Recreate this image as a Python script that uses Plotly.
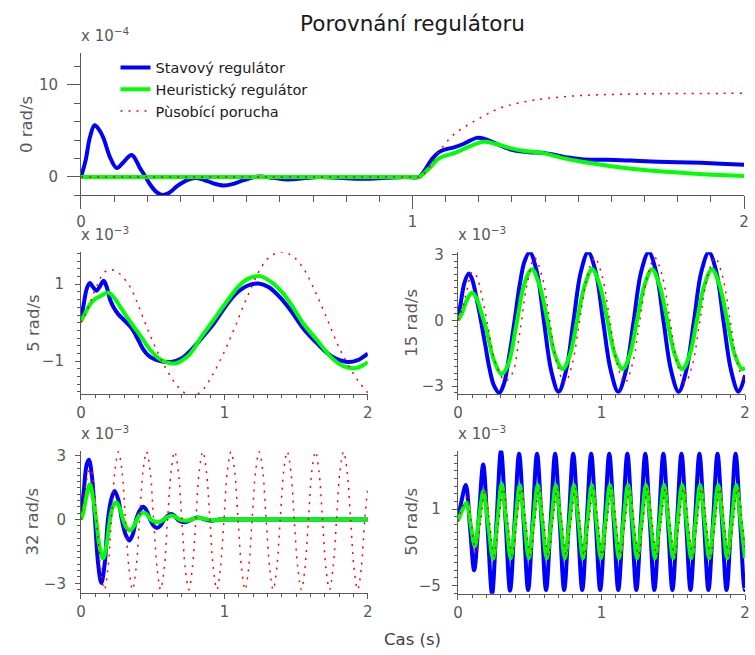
import plotly.graph_objects as go

# ---------------- data ----------------
# Panel 1: 0 rad/s  (x 10^-4)
t0_stav = [0, 0.014, 0.027, 0.041, 0.055, 0.068, 0.088, 0.108, 0.128, 0.153,
           0.178, 0.195, 0.21, 0.228, 0.245, 0.265, 0.29, 0.32, 0.345, 0.37,
           0.4, 0.43, 0.46, 0.49, 0.535, 0.58, 0.624, 0.67, 0.72, 0.78,
           0.85, 0.92, 0.98, 1.02, 1.04, 1.06, 1.08, 1.10, 1.125, 1.155,
           1.194, 1.22, 1.25, 1.30, 1.35, 1.39, 1.43, 1.47, 1.51, 1.56,
           1.61, 1.66, 1.72, 1.8, 1.87, 1.93, 2.0]
y0_stav = [0, 1.8, 4.3, 5.6, 5.1, 4.2, 2.1, 0.96, 1.6, 2.39,
           0.96, 0.0, -0.9, -1.65, -1.97, -1.75, -1.0, -0.35, -0.12, -0.3,
           -0.7, -0.93, -0.75, -0.35, 0.05, -0.1, -0.27, -0.15, 0.0, -0.1,
           -0.2, -0.1, 0.0, 0.0, 0.9, 2.0, 2.7, 3.0, 3.2, 3.6,
           4.24, 4.1, 3.64, 2.93, 2.68, 2.62, 2.39, 2.1, 1.93, 1.87,
           1.85, 1.78, 1.67, 1.6, 1.53, 1.43, 1.32]
t0_heur = [0, 0.5, 1.0, 1.02, 1.051, 1.08, 1.13, 1.17, 1.214, 1.25,
           1.289, 1.338, 1.388, 1.447, 1.507, 1.56, 1.606, 1.66, 1.715, 1.79,
           1.864, 1.93, 2.0]
y0_heur = [0, 0, 0, 0, 0.96, 2.03, 2.64, 3.28, 3.82, 3.6,
           3.18, 2.82, 2.64, 2.1, 1.67, 1.38, 1.14, 0.9, 0.71, 0.5,
           0.32, 0.2, 0.1]
t0_por = [0, 0.5, 1.0, 1.02, 1.05, 1.07, 1.095, 1.128, 1.17, 1.214,
          1.259, 1.309, 1.358, 1.408, 1.502, 1.616, 1.765, 2.0]
y0_por = [0, 0, 0, 0, 1.0, 2.2, 3.46, 4.71, 5.7, 6.6,
          7.4, 7.93, 8.28, 8.53, 8.82, 8.96, 9.04, 9.07]

# Panel 2: 5 rad/s  (x 10^-3)
t5_stav = [0, 0.02, 0.04, 0.062, 0.085, 0.108, 0.13, 0.158, 0.18, 0.204,
           0.23, 0.262, 0.3, 0.353, 0.4, 0.434, 0.47, 0.502, 0.56, 0.629,
           0.7, 0.77, 0.846, 0.93, 1.007, 1.08, 1.16, 1.237, 1.31, 1.39,
           1.466, 1.55, 1.65, 1.75, 1.856, 1.93, 2.0]
y5_stav = [0.04, 0.5, 0.88, 1.03, 0.92, 0.83, 0.93, 1.09, 0.92, 0.59,
           0.38, 0.21, 0.07, -0.14, -0.45, -0.69, -0.85, -0.93, -1.0, -1.02,
           -0.93, -0.7, -0.38, 0.0, 0.42, 0.75, 0.96, 1.02, 0.92, 0.65,
           0.3, -0.15, -0.55, -0.88, -1.02, -0.97, -0.8]
t5_heur = [0, 0.03, 0.067, 0.1, 0.135, 0.17, 0.193, 0.225, 0.273, 0.32,
           0.376, 0.43, 0.479, 0.56, 0.652, 0.75, 0.846, 0.93, 1.007, 1.1,
           1.17, 1.248, 1.33, 1.4, 1.466, 1.55, 1.65, 1.75, 1.83, 1.913,
           1.96, 2.0]
y5_heur = [0.04, 0.25, 0.5, 0.62, 0.69, 0.76, 0.78, 0.68, 0.42, 0.15,
           -0.14, -0.42, -0.69, -0.97, -1.06, -0.85, -0.33, 0.1, 0.5, 0.95,
           1.15, 1.21, 1.05, 0.8, 0.47, -0.02, -0.47, -0.92, -1.13, -1.18,
           -1.12, -1.02]
t5_por = [0, 0.03, 0.067, 0.11, 0.158, 0.204, 0.26, 0.342, 0.4, 0.456,
          0.52, 0.594, 0.68, 0.766, 0.84, 0.915, 1.0, 1.076, 1.16, 1.259,
          1.33, 1.409, 1.48, 1.559, 1.64, 1.718, 1.8, 1.879, 1.94, 2.0]
y5_por = [0, 0.22, 0.55, 0.95, 1.29, 1.38, 1.3, 0.93, 0.45, -0.09,
          -0.65, -1.2, -1.68, -1.9, -1.78, -1.37, -0.75, -0.09, 0.68, 1.45,
          1.75, 1.83, 1.72, 1.36, 0.75, 0.08, -0.65, -1.2, -1.55, -1.82]

# Panel 3: 15 rad/s  (x 10^-3)
t15_stav = [0, 0.02, 0.045, 0.076, 0.1, 0.13, 0.16, 0.19, 0.22, 0.25,
            0.288, 0.32, 0.36, 0.395, 0.43, 0.465, 0.5, 0.55, 0.6, 0.65,
            0.701, 0.753, 0.804, 0.856, 0.907, 0.96, 1.012, 1.065, 1.117, 1.17,
            1.223, 1.276, 1.329, 1.381, 1.433, 1.485, 1.537, 1.59, 1.643, 1.695,
            1.748, 1.8, 1.851, 1.903, 1.954, 2.0]
y15_stav = [0, 0.8, 1.7, 2.13, 1.85, 1.0, 0.0, -1.1, -2.2, -2.95,
            -3.3, -2.9, -1.5, 0.0, 1.6, 2.7, 3.1, 2.2, -0.08, -2.3,
            -3.25, -2.3, -0.08, 2.2, 3.1, 2.2, -0.08, -2.3, -3.25, -2.3,
            -0.08, 2.2, 3.1, 2.2, -0.08, -2.3, -3.25, -2.3, -0.08, 2.2,
            3.1, 2.2, -0.08, -2.3, -3.25, -2.5]
t15_heur = [0, 0.03, 0.06, 0.098, 0.13, 0.17, 0.2, 0.25, 0.305, 0.35,
            0.41, 0.46, 0.515, 0.568, 0.622, 0.675, 0.729, 0.781, 0.832, 0.884,
            0.935, 0.988, 1.04, 1.093, 1.146, 1.198, 1.249, 1.3, 1.352, 1.404,
            1.457, 1.51, 1.563, 1.615, 1.666, 1.717, 1.769, 1.822, 1.874, 1.927,
            1.98, 2.0]
y15_heur = [0, 0.35, 0.9, 1.26, 1.0, 0.2, -0.45, -1.8, -2.45, -2.0,
            -0.1, 1.6, 2.33, 1.6, 0.05, -1.55, -2.22, -1.55, 0.05, 1.6,
            2.33, 1.6, 0.05, -1.55, -2.22, -1.55, 0.05, 1.6, 2.33, 1.6,
            0.05, -1.55, -2.22, -1.55, 0.05, 1.6, 2.33, 1.6, 0.05, -1.55,
            -2.22, -2.15]
t15_por = [0, 0.03, 0.06, 0.1, 0.13, 0.17, 0.21, 0.26, 0.33, 0.38,
           0.43, 0.48, 0.534, 0.586, 0.639, 0.691, 0.744, 0.796, 0.848, 0.901,
           0.953, 1.005, 1.058, 1.11, 1.163, 1.215, 1.267, 1.32, 1.372, 1.424,
           1.477, 1.529, 1.582, 1.634, 1.686, 1.739, 1.791, 1.843, 1.896, 1.948,
           2.0]
y15_por = [0, 0.5, 1.3, 2.2, 2.0, 1.0, -0.3, -1.9, -2.75, -2.4,
           -0.6, 1.6, 2.85, 2.0, 0.0, -2.0, -2.85, -2.0, 0.0, 2.0,
           2.85, 2.0, 0.0, -2.0, -2.85, -2.0, 0.0, 2.0, 2.85, 2.0,
           0.0, -2.0, -2.85, -2.0, 0.0, 2.0, 2.85, 2.0, 0.0, -2.0,
           -2.85]

# Panel 4: 32 rad/s  (x 10^-3)
t32_stav = [0, 0.02, 0.04, 0.055, 0.077, 0.098, 0.12, 0.142, 0.165, 0.188,
            0.211, 0.234, 0.26, 0.285, 0.311, 0.337, 0.361, 0.385, 0.41, 0.434,
            0.458, 0.482, 0.506, 0.53, 0.555, 0.58, 0.605, 0.629, 0.652, 0.675,
            0.698, 0.72, 0.745, 0.77, 0.81, 0.86, 0.91, 0.96, 1.0, 1.5,
            2.0]
y32_stav = [0, 1.4, 2.6, 2.82, 2.0, 0.0, -2.1, -2.99, -2.1, 0.0,
            0.95, 1.35, 0.95, 0.0, -0.7, -0.98, -0.7, 0.0, 0.42, 0.6,
            0.42, 0.0, -0.28, -0.39, -0.27, 0.0, 0.18, 0.26, 0.18, 0.0,
            -0.09, -0.12, -0.08, 0.0, 0.1, 0.02, -0.05, 0.0, 0.0, 0.0,
            0.0]
t32_heur = [0, 0.015, 0.035, 0.062, 0.085, 0.108, 0.13, 0.154, 0.178, 0.2,
            0.222, 0.245, 0.27, 0.293, 0.318, 0.342, 0.365, 0.39, 0.414, 0.438,
            0.462, 0.487, 0.512, 0.537, 0.562, 0.586, 0.61, 0.636, 0.66, 0.683,
            0.707, 0.73, 0.76, 0.8, 0.83, 0.88, 0.93, 0.98, 1.5, 2.0]
y32_heur = [0, 0.3, 1.0, 1.66, 1.0, -0.1, -1.3, -1.83, -1.2, -0.1,
            0.6, 0.8, 0.55, 0.0, -0.38, -0.51, -0.35, 0.0, 0.25, 0.34,
            0.22, 0.0, -0.09, -0.12, -0.07, 0.05, 0.14, 0.19, 0.12, 0.02,
            -0.03, -0.05, -0.02, 0.06, 0.07, 0.01, -0.03, 0.0, 0.0, 0.0]
t32_por = [0, 0.02, 0.04, 0.065, 0.09, 0.114, 0.139, 0.163, 0.188, 0.212,
           0.237, 0.261, 0.286, 0.310, 0.335, 0.359, 0.384, 0.408, 0.433, 0.457,
           0.482, 0.506, 0.531, 0.555, 0.580, 0.604, 0.629, 0.653, 0.678, 0.703,
           0.727, 0.752, 0.776, 0.801, 0.825, 0.850, 0.874, 0.899, 0.923, 0.948,
           0.972, 0.997, 1.021, 1.046, 1.071, 1.095, 1.120, 1.144, 1.169, 1.193,
           1.218, 1.242, 1.267, 1.291, 1.316, 1.340, 1.365, 1.389, 1.414, 1.438,
           1.463, 1.487, 1.512, 1.537, 1.561, 1.586, 1.610, 1.635, 1.659, 1.684,
           1.708, 1.733, 1.757, 1.782, 1.806, 1.831, 1.855, 1.880, 1.904, 1.929,
           1.954, 1.978, 2.0]
y32_por = [0, 1.0, 1.9, 2.4, 1.5, -0.5, -2.4, -3.3, -2.3, 0.0,
           2.3, 3.2, 2.3, 0.0, -2.3, -3.3, -2.3, 0.0, 2.3, 3.2,
           2.3, 0.0, -2.3, -3.3, -2.3, 0.0, 2.3, 3.2, 2.3, 0.0,
           -2.3, -3.3, -2.3, 0.0, 2.3, 3.2, 2.3, 0.0, -2.3, -3.3,
           -2.3, 0.0, 2.3, 3.2, 2.3, 0.0, -2.3, -3.3, -2.3, 0.0,
           2.3, 3.2, 2.3, 0.0, -2.3, -3.3, -2.3, 0.0, 2.3, 3.2,
           2.3, 0.0, -2.3, -3.3, -2.3, 0.0, 2.3, 3.2, 2.3, 0.0,
           -2.3, -3.3, -2.3, 0.0, 2.3, 3.2, 2.3, 0.0, -2.3, -3.3,
           -2.3, 0.0, 1.5]

# Panel 5: 50 rad/s  (x 10^-3)
t50_stav = [0, 0.028, 0.055, 0.084, 0.113, 0.145, 0.176, 0.207, 0.238, 0.269,
            0.300, 0.332, 0.363, 0.395, 0.426, 0.458, 0.489, 0.520, 0.551, 0.583,
            0.614, 0.646, 0.677, 0.709, 0.740, 0.772, 0.803, 0.835, 0.866, 0.897,
            0.928, 0.960, 0.991, 1.023, 1.054, 1.086, 1.117, 1.149, 1.180, 1.212,
            1.243, 1.274, 1.305, 1.337, 1.368, 1.400, 1.431, 1.463, 1.494, 1.526,
            1.557, 1.589, 1.620, 1.651, 1.682, 1.714, 1.745, 1.777, 1.808, 1.840,
            1.871, 1.903, 1.934, 1.966, 1.997, 2.0]
y50_stav = [0.09, 1.8, 2.9, -0.4, -3.8, 0.3, 4.5, -0.5, -5.65, 0.0,
            5.6, 0.1, -5.4, 0.0, 5.35, 0.0, -5.35, 0.0, 5.35, 0.0,
            -5.35, 0.0, 5.35, 0.0, -5.35, 0.0, 5.35, 0.0, -5.35, 0.0,
            5.35, 0.0, -5.35, 0.0, 5.35, 0.0, -5.35, 0.0, 5.35, 0.0,
            -5.35, 0.0, 5.35, 0.0, -5.35, 0.0, 5.35, 0.0, -5.35, 0.0,
            5.35, 0.0, -5.35, 0.0, 5.35, 0.0, -5.35, 0.0, 5.35, 0.0,
            -5.35, 0.0, 5.35, 0.0, -5.35, -5.3]
t50_heur = [0, 0.03, 0.06, 0.089, 0.118, 0.147, 0.177, 0.211, 0.245, 0.275,
            0.305, 0.337, 0.368, 0.400, 0.431, 0.462, 0.494, 0.525, 0.556, 0.588,
            0.619, 0.651, 0.682, 0.714, 0.745, 0.777, 0.808, 0.840, 0.871, 0.902,
            0.933, 0.965, 0.996, 1.028, 1.059, 1.091, 1.122, 1.153, 1.185, 1.216,
            1.248, 1.279, 1.310, 1.342, 1.373, 1.405, 1.436, 1.467, 1.499, 1.530,
            1.562, 1.593, 1.625, 1.656, 1.687, 1.719, 1.750, 1.782, 1.813, 1.845,
            1.876, 1.907, 1.939, 1.970, 2.0]
y50_heur = [0.09, 0.9, 1.51, -0.2, -1.9, 0.25, 2.4, -0.25, -2.9, 0.05,
            3.0, 0.05, -2.85, 0.03, 2.9, 0.03, -2.85, 0.03, 2.9, 0.03,
            -2.85, 0.03, 2.9, 0.03, -2.85, 0.03, 2.9, 0.03, -2.85, 0.03,
            2.9, 0.03, -2.85, 0.03, 2.9, 0.03, -2.85, 0.03, 2.9, 0.03,
            -2.85, 0.03, 2.9, 0.03, -2.85, 0.03, 2.9, 0.03, -2.85, 0.03,
            2.9, 0.03, -2.85, 0.03, 2.9, 0.03, -2.85, 0.03, 2.9, 0.03,
            -2.85, 0.03, 2.9, 0.03, -2.85]
t50_por = [0, 0.032, 0.064, 0.095, 0.126, 0.158, 0.189, 0.220, 0.252, 0.284,
           0.315, 0.347, 0.378, 0.410, 0.441, 0.472, 0.504, 0.535, 0.566, 0.598,
           0.629, 0.661, 0.692, 0.724, 0.755, 0.787, 0.818, 0.849, 0.881, 0.912,
           0.943, 0.975, 1.006, 1.038, 1.069, 1.101, 1.132, 1.164, 1.195, 1.226,
           1.258, 1.289, 1.320, 1.352, 1.383, 1.415, 1.446, 1.477, 1.509, 1.541,
           1.572, 1.604, 1.635, 1.666, 1.697, 1.729, 1.760, 1.792, 1.823, 1.855,
           1.886, 1.918, 1.949, 1.980, 2.0]
y50_por = [0, 1.2, 1.9, -0.2, -2.5, 0.0, 2.6, 0.0, -2.65, 0.0,
           2.65, 0.0, -2.65, 0.0, 2.65, 0.0, -2.65, 0.0, 2.65, 0.0,
           -2.65, 0.0, 2.65, 0.0, -2.65, 0.0, 2.65, 0.0, -2.65, 0.0,
           2.65, 0.0, -2.65, 0.0, 2.65, 0.0, -2.65, 0.0, 2.65, 0.0,
           -2.65, 0.0, 2.65, 0.0, -2.65, 0.0, 2.65, 0.0, -2.65, 0.0,
           2.65, 0.0, -2.65, 0.0, 2.65, 0.0, -2.65, 0.0, 2.65, 0.0,
           -2.65, 0.0, 2.65, 0.0, -2.2]

series_names = ["Stavový regulátor", "Heuristický regulátor", "Pùsobící porucha"]
panel_labels = ["0 rad/s", "5 rad/s", "15 rad/s", "32 rad/s", "50 rad/s"]
panel_exponents = ["−4", "−3", "−3", "−3", "−3"]
x_ticks = [0, 1, 2]
y_ticks = [[0, 10], [-1, 1], [-3, 0, 3], [-3, 0, 3], [-5, 1]]
y_ranges = [[-2, 13.4], [-1.85, 1.83], [-3.35, 3.1], [-3.46, 3.24], [-5.64, 5.6]]
y_minor = [2, 0.2, 0.3, 0.3, 0.6]

panels = [
    ((t0_stav, y0_stav), (t0_heur, y0_heur), (t0_por, y0_por)),
    ((t5_stav, y5_stav), (t5_heur, y5_heur), (t5_por, y5_por)),
    ((t15_stav, y15_stav), (t15_heur, y15_heur), (t15_por, y15_por)),
    ((t32_stav, y32_stav), (t32_heur, y32_heur), (t32_por, y32_por)),
    ((t50_stav, y50_stav), (t50_heur, y50_heur), (t50_por, y50_por)),
]
for p in panels:
    for tt, yy in p:
        assert len(tt) == len(yy), (len(tt), len(yy))

# ---------------- styling / layout ----------------
W, H = 755, 655
FONT = "DejaVu Sans"
GRAY = "#595959"

def fx(p):
    return p / W

def fy(p):
    return 1 - p / H

# pixel boxes: (left, right, top, bottom)
boxes = [
    (77, 749, 47, 190.7),
    (77, 367.7, 248.3, 391.7),
    (459, 750, 248.3, 391.7),
    (77, 367.7, 449.3, 593.3),
    (459, 750, 449, 594),
]
major_len = [13, 5, 5, 5, 5]
minor_len = [6, 3, 3, 3, 3]
ylab_standoff = [6, 8, 5, 6, 8]

line_styles = [
    dict(color="#0000ff", width=4),
    dict(color="#00ff00", width=4),
    dict(color="#ff0000", width=1.5, dash="2px,6px"),
]

fig = go.Figure()
for i, p in enumerate(panels):
    sfx = "" if i == 0 else str(i + 1)
    for j, (tt, yy) in enumerate(p):
        fig.add_trace(go.Scatter(
            x=tt, y=yy, mode="lines", name=series_names[j],
            line=dict(shape="spline", smoothing=1.0, simplify=False, **line_styles[j]),
            xaxis="x" + sfx, yaxis="y" + sfx,
            showlegend=(i == 0), hoverinfo="skip",
        ))

def fmt(v):
    s = ("%g" % v)
    return s.replace("-", "−")

layout = dict(
    width=W, height=H,
    margin=dict(l=0, r=0, t=0, b=0),
    paper_bgcolor="white", plot_bgcolor="white",
    font=dict(family=FONT, color=GRAY),
    title=dict(text="Porovnání regulátoru", x=413 / W, y=fy(23), xanchor="center",
               yanchor="middle", xref="paper", yref="container",
               font=dict(family=FONT, size=21.5, color="#1a1a1a")),
    showlegend=True,
    legend=dict(x=fx(112), y=fy(45), xanchor="left", yanchor="top",
                bgcolor="rgba(0,0,0,0)", borderwidth=0, tracegroupgap=0,
                font=dict(family=FONT, size=14.5, color="#1a1a1a")),
)

annotations = []
for i, (l, r, t, b) in enumerate(boxes):
    sfx = "" if i == 0 else str(i + 1)
    common = dict(showline=True, linecolor=GRAY, linewidth=1, ticks="outside",
                  ticklen=major_len[i], tickwidth=1, tickcolor=GRAY, showgrid=False,
                  zeroline=False, fixedrange=True,
                  tickfont=dict(family=FONT, size=15, color=GRAY))
    layout["xaxis" + sfx] = dict(
        common, domain=[fx(l), fx(r)], anchor="y" + sfx, range=[0, 2],
        tickvals=x_ticks, ticktext=[fmt(v) for v in x_ticks],
        minor=dict(dtick=0.1, tick0=0, ticklen=minor_len[i], ticks="outside",
                   tickcolor=GRAY, tickwidth=1, showgrid=False),
    )
    layout["yaxis" + sfx] = dict(
        common, domain=[fy(b), fy(t)], anchor="x" + sfx, range=y_ranges[i],
        tickvals=y_ticks[i], ticktext=[fmt(v) for v in y_ticks[i]],
        ticklabelstandoff=ylab_standoff[i],
        minor=dict(dtick=y_minor[i], tick0=y_ticks[i][0], ticklen=minor_len[i],
                   ticks="outside", tickcolor=GRAY, tickwidth=1, showgrid=False),
    )
    # y label
    lab_x = 22 if i == 0 else (28 if l < 200 else 412)
    annotations.append(dict(text=panel_labels[i], x=fx(lab_x), y=fy((t + b) / 2),
                            xref="paper", yref="paper", textangle=-90,
                            showarrow=False, xanchor="center", yanchor="middle",
                            font=dict(family=FONT, size=16.5, color=GRAY)))
    # exponent
    annotations.append(dict(text="x 10<sup>" + panel_exponents[i] + "</sup>",
                            x=fx(l - 2), y=fy(t - 6), xref="paper", yref="paper",
                            showarrow=False, xanchor="left", yanchor="bottom",
                            font=dict(family=FONT, size=15, color=GRAY)))

annotations.append(dict(text="Cas (s)", x=fx(413), y=fy(640), xref="paper", yref="paper",
                        showarrow=False, xanchor="center", yanchor="middle",
                        font=dict(family=FONT, size=16.5, color="#404040")))
layout["annotations"] = annotations

fig.update_layout(**layout)
fig.write_html("out.html",
               config={"displayModeBar": False, "staticPlot": True},
               post_script="document.body.style.margin='0';document.body.style.padding='0';")
